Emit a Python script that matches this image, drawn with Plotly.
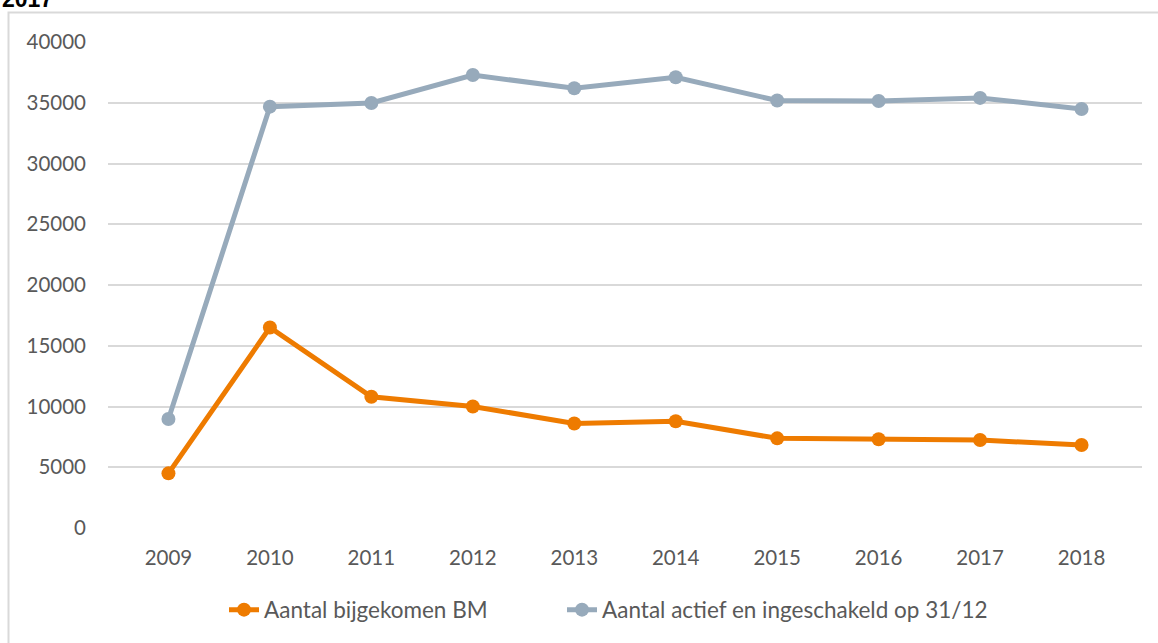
import plotly.graph_objects as go

years = ["2009", "2010", "2011", "2012", "2013", "2014", "2015", "2016", "2017", "2018"]
bijgekomen = [4500, 16500, 10800, 10000, 8600, 8780, 7380, 7300, 7240, 6830]
actief = [8970, 34680, 34980, 37280, 36190, 37100, 35180, 35150, 35400, 34490]
y_ticks = [0, 5000, 10000, 15000, 20000, 25000, 30000, 35000, 40000]

ORANGE = "#EE7B00"
GREY = "#97AABB"
FONT = "Lato"
TXT = "#595959"

fig = go.Figure()
fig.add_trace(go.Scatter(
    x=years, y=bijgekomen, mode="lines+markers", name="Aantal bijgekomen BM",
    line=dict(color=ORANGE, width=5), marker=dict(color=ORANGE, size=14),
    legend="legend"))
fig.add_trace(go.Scatter(
    x=years, y=actief, mode="lines+markers", name="Aantal actief en ingeschakeld op 31/12",
    line=dict(color=GREY, width=5), marker=dict(color=GREY, size=14),
    legend="legend2"))

W, H = 1158, 643
PL, PR, PT, PB = 108, 1142, 42, 528  # plot area in pixels


def px(x):
    return x / W


def py(y):
    return (H - y) / H


leg_common = dict(orientation="h", xanchor="left", yanchor="middle", y=py(610),
                  font=dict(family=FONT, size=22.5, color=TXT),
                  itemwidth=30, bgcolor="rgba(0,0,0,0)")

fig.update_layout(
    width=W, height=H,
    margin=dict(l=0, r=0, t=0, b=0, autoexpand=False),
    paper_bgcolor="white", plot_bgcolor="white",
    font=dict(family=FONT, size=20.5, color=TXT),
    showlegend=True,
    legend=dict(x=px(224), **leg_common),
    legend2=dict(x=px(562), **leg_common),
    xaxis=dict(type="category", domain=[px(PL), px(PR)], showgrid=False, showline=False,
               zeroline=False, ticks="", automargin=False, ticklabelstandoff=15,
               tickfont=dict(family=FONT, size=20.5, color=TXT)),
    yaxis=dict(range=[0, 40000], domain=[py(PB), py(PT)], tickvals=y_ticks,
               ticktext=[str(v) for v in y_ticks],
               showgrid=True, gridcolor="#D9D9D9", gridwidth=1.5,
               zeroline=False, showline=False, ticks="", automargin=False,
               ticklabelstandoff=21,
               tickfont=dict(family=FONT, size=20.5, color=TXT)),
    shapes=[dict(type="path", xref="paper", yref="paper",
                 path=f"M {px(8.5)} {py(H + 5)} L {px(8.5)} {py(12.5)} L {px(W + 5)} {py(12.5)}",
                 line=dict(color="#D9D9D9", width=2))],
    annotations=[dict(text="<b>2017</b>", xref="paper", yref="paper",
                      x=px(0), xanchor="left",
                      y=py(14), yanchor="bottom", showarrow=False,
                      font=dict(family="Liberation Sans", size=23, color="black"))],
)

fig.write_html("out.html", config={"displayModeBar": False},
               post_script="document.body.style.margin='0px';")
